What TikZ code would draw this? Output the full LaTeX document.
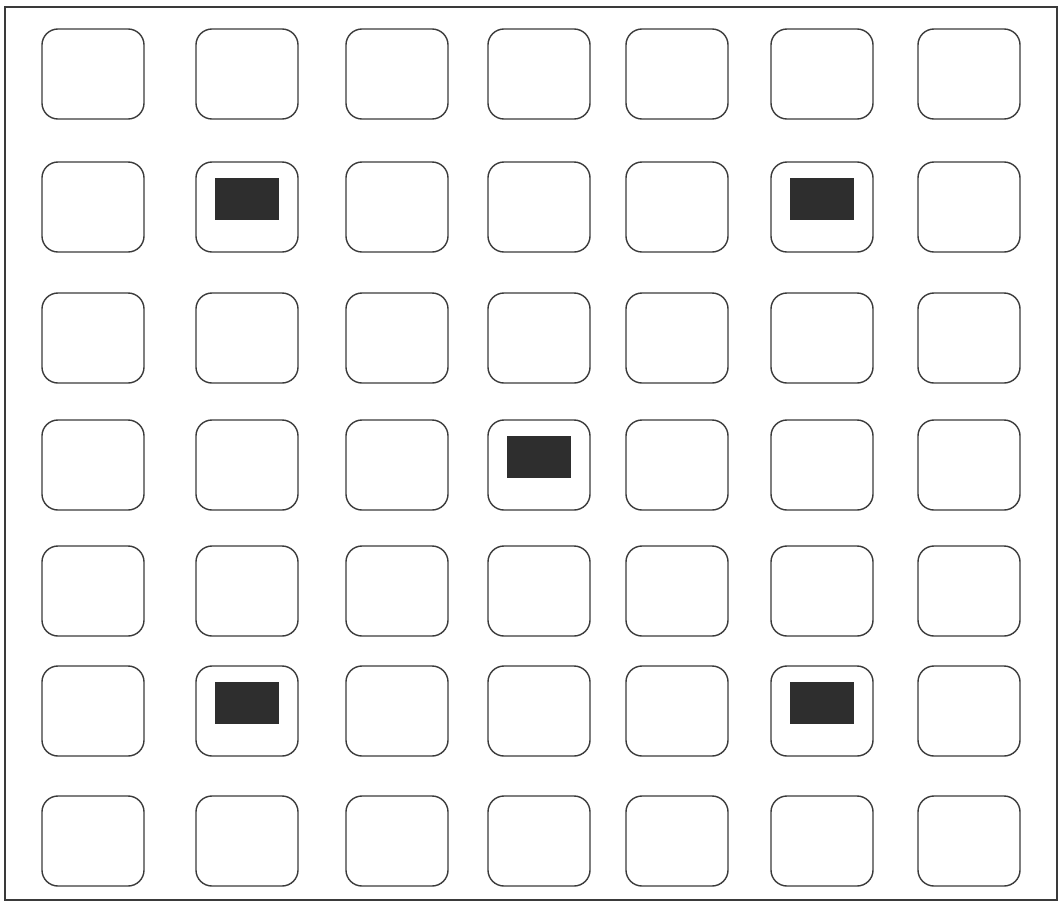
\documentclass[tikz,border=0pt]{standalone}
\usepackage{tikz}
\definecolor{chipgray}{HTML}{2E2E2E}
\definecolor{linegray}{HTML}{3A3A3A}

\begin{document}
\begin{tikzpicture}[
            x=0.025cm, y=-0.025cm,
            cell/.style={
                    draw=linegray, line width=1pt, rounded corners=0.4cm,
                    minimum width=2.55cm, minimum height=2.25cm, inner sep=0pt
                },
            chip/.style={
                    fill=chipgray, draw=none, yshift=0.2cm,
                    minimum width=1.6cm, minimum height=1.05cm, inner sep=0pt
                },
            frame/.style={draw=linegray, line width=1.1pt}
            ]
            \useasboundingbox (0,0) rectangle (1059,903);
            \draw[frame] (5,7) rectangle (1057,900);

            % grid of cells
            \foreach \r/\y in {1/74,2/207,3/338,4/465,5/591,6/711,7/841} {
                    \foreach \c/\x in {1/93,2/247,3/397,4/539,5/677,6/822,7/969} {
                            \node[cell] (cell-\r-\c) at (\x,\y) {};
                        }
                }

            % filled cells
            \node[chip] (chip-2-2) at (cell-2-2) {};
            \node[chip] (chip-2-6) at (cell-2-6) {};
            \node[chip] (chip-4-4) at (cell-4-4) {};
            \node[chip] (chip-6-2) at (cell-6-2) {};
            \node[chip] (chip-6-6) at (cell-6-6) {};
        \end{tikzpicture}
\end{document}
